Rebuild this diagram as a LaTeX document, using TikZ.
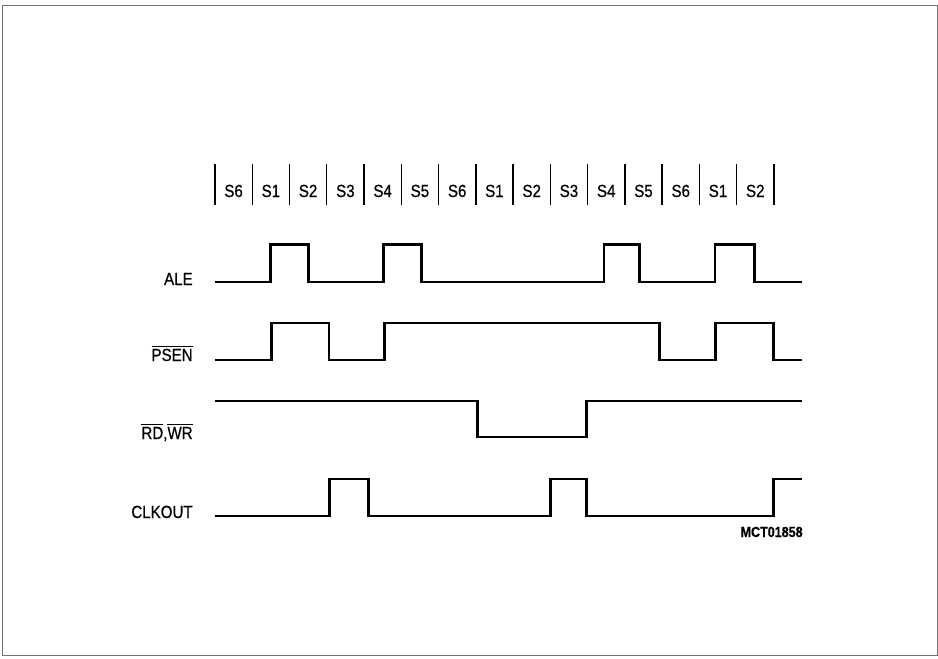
\documentclass[tikz,border=0pt]{standalone}
\usepackage{fontspec}
\setmainfont[FakeStretch=0.86, FakeBold=0.6]{Liberation Sans}
\usetikzlibrary{positioning}

\newcommand{\ovl}[1]{$\overline{\mbox{#1}}$}

\begin{document}
\begin{tikzpicture}[
  x=0.02cm, y=-0.02cm,
  font=\fontsize{10}{12}\selectfont,
  frame/.style={draw=black!55, line width=0.5pt},
  wave/.style={line width=1.6pt, line join=miter},
  tick/.style={line width=0.8pt},
  sig/.style={anchor=base east, inner sep=0pt},
  state/.style={anchor=base, inner sep=0pt},
  code/.style={anchor=base east, inner sep=0pt, font=\fontsize{8.3}{10}\selectfont\bfseries},
]

\useasboundingbox (0,0) rectangle (938,659);
\draw[frame] (2,5) rectangle (937,655);

% signal names
\node[sig] (ale) at (193,285) {ALE};
\node[sig] (psen) at (193,361) {\ovl{PSEN}};
\node[sig] (rdwr) at (193,439) {\ovl{RD},\ovl{WR}};
\node[sig] (clkout) at (193,518) {CLKOUT};
\node[code] (mct) at (803,537) {MCT01858};

% one unit = one state
\begin{scope}[xshift=4.3cm, x=0.7454cm]
  \foreach \i in {0,...,15}
    \draw[tick] (\i,164) -- (\i,205);
  \foreach \s [count=\i from 0] in {6,1,2,3,4,5,6,1,2,3,4,5,6,1,2}
    \node[state] (s\i) at (\i+0.5,197) {S\s};

  % ALE
  \draw[wave] (0,282) -- (1.5,282) -- (1.5,244.5) -- (2.52,244.5) -- (2.52,282)
    -- (4.53,282) -- (4.53,244.5) -- (5.55,244.5) -- (5.55,282)
    -- (10.44,282) -- (10.44,244.5) -- (11.4,244.5) -- (11.4,282)
    -- (13.42,282) -- (13.42,244.5) -- (14.49,244.5) -- (14.49,282) -- (15.75,282);
  % PSEN
  \draw[wave] (0,360) -- (1.52,360) -- (1.52,323) -- (3.06,323) -- (3.06,360)
    -- (4.54,360) -- (4.54,323) -- (11.92,323) -- (11.92,360)
    -- (13.43,360) -- (13.43,323) -- (15,323) -- (15,360) -- (15.75,360);
  % RD, WR
  \draw[wave] (0,401) -- (7.05,401) -- (7.05,437) -- (9.98,437) -- (9.98,401) -- (15.75,401);
  % CLKOUT
  \draw[wave] (0,516) -- (3.08,516) -- (3.08,479) -- (4.11,479) -- (4.11,516)
    -- (9,516) -- (9,479) -- (9.98,479) -- (9.98,516)
    -- (15,516) -- (15,479) -- (15.75,479);
\end{scope}

\end{tikzpicture}
\end{document}
